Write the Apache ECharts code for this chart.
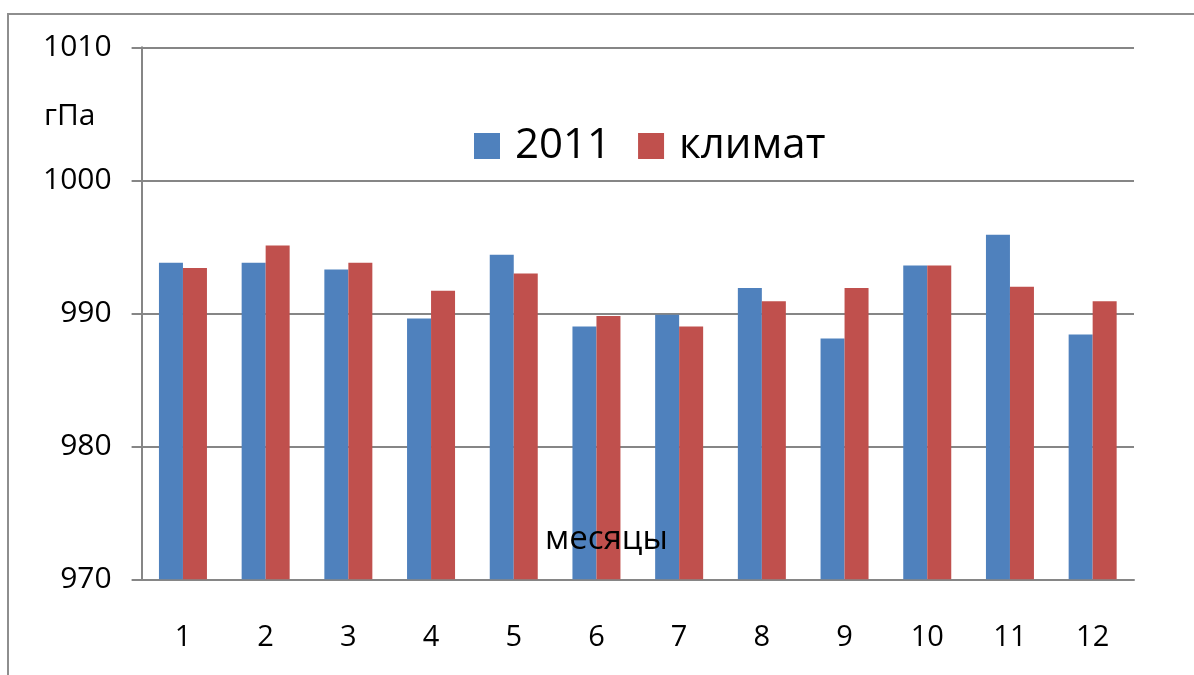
<!DOCTYPE html>
<html>
<head>
<meta charset="utf-8">
<title>Давление</title>
<script src="https://cdn.jsdelivr.net/npm/echarts@6/dist/echarts.min.js"></script>
<style>
  html, body { margin: 0; padding: 0; background: #fff; }
  #chart { width: 1194px; height: 675px; }
</style>
</head>
<body>
<div id="chart"></div>
<script>
/* ---------------------------------- Data ---------------------------------- */
const months = ['1', '2', '3', '4', '5', '6', '7', '8', '9', '10', '11', '12'];
const values2011 = [993.8, 993.8, 993.3, 989.6, 994.4, 989.0, 989.9, 991.9, 988.1, 993.6, 995.9, 988.4];
const valuesClimate = [993.4, 995.1, 993.8, 991.7, 993.0, 989.8, 989.0, 990.9, 991.9, 993.6, 992.0, 990.9];
const seriesNames = ['2011', 'климат'];

/* --------------------------------- Colors --------------------------------- */
const colors = {
  blue: '#4f81bd',
  red: '#c0504d',
  axis: '#868686',
  frame: '#8e8e8e',
  text: '#000'
};
const FONT = '"Open Sans", "Noto Sans", sans-serif';

const pressureInit = () => {
  const $chart = document.getElementById('chart');
  const chart = echarts.init($chart);

  const barSeries = (name, data, color) => ({
    name,
    type: 'bar',
    data,
    barWidth: 24,
    barGap: '0%',
    itemStyle: { color },
    emphasis: { disabled: true }
  });

  chart.setOption({
    animation: false,
    textStyle: { fontFamily: FONT, color: colors.text },
    grid: { left: 141.6, right: 60, top: 47.3, bottom: 95.7 },
    legend: {
      left: 469,
      top: 120,
      icon: 'rect',
      itemWidth: 26,
      itemHeight: 26,
      itemGap: 27,
      selectedMode: false,
      data: seriesNames,
      textStyle: {
        fontFamily: FONT,
        fontSize: 42,
        lineHeight: 42,
        color: colors.text,
        padding: [0, 0, 0, 10]
      }
    },
    xAxis: {
      type: 'category',
      data: months,
      boundaryGap: true,
      axisLine: { lineStyle: { color: colors.axis, width: 2 } },
      axisTick: { length: 9, lineStyle: { color: colors.axis, width: 2 } },
      axisLabel: { fontSize: 29, color: colors.text, margin: 44 },
      splitLine: { show: false }
    },
    yAxis: {
      type: 'value',
      min: 970,
      max: 1010,
      interval: 10,
      axisLine: { show: true, lineStyle: { color: colors.axis, width: 2 } },
      axisTick: { show: true, length: 10, lineStyle: { color: colors.axis, width: 2 } },
      axisLabel: {
        fontSize: 30,
        color: colors.text,
        margin: 30,
        formatter: v => String(v)
      },
      splitLine: { lineStyle: { color: colors.axis, width: 2 } }
    },
    graphic: [
      {
        type: 'rect',
        silent: true,
        shape: { x: 8, y: 14, width: 1400, height: 900 },
        style: { fill: 'none', stroke: colors.frame, lineWidth: 2 }
      },
      {
        type: 'text',
        z: 10,
        x: 44,
        y: 116,
        style: {
          text: 'гПа',
          fontFamily: FONT,
          fontSize: 30,
          fill: colors.text,
          verticalAlign: 'middle'
        }
      },
      {
        type: 'text',
        z: 10,
        x: 545,
        y: 540,
        style: {
          text: 'месяцы',
          fontFamily: FONT,
          fontSize: 33,
          fill: colors.text,
          verticalAlign: 'middle'
        }
      }
    ],
    series: [
      barSeries(seriesNames[0], values2011, colors.blue),
      barSeries(seriesNames[1], valuesClimate, colors.red)
    ]
  });
};

pressureInit();
</script>
</body>
</html>
